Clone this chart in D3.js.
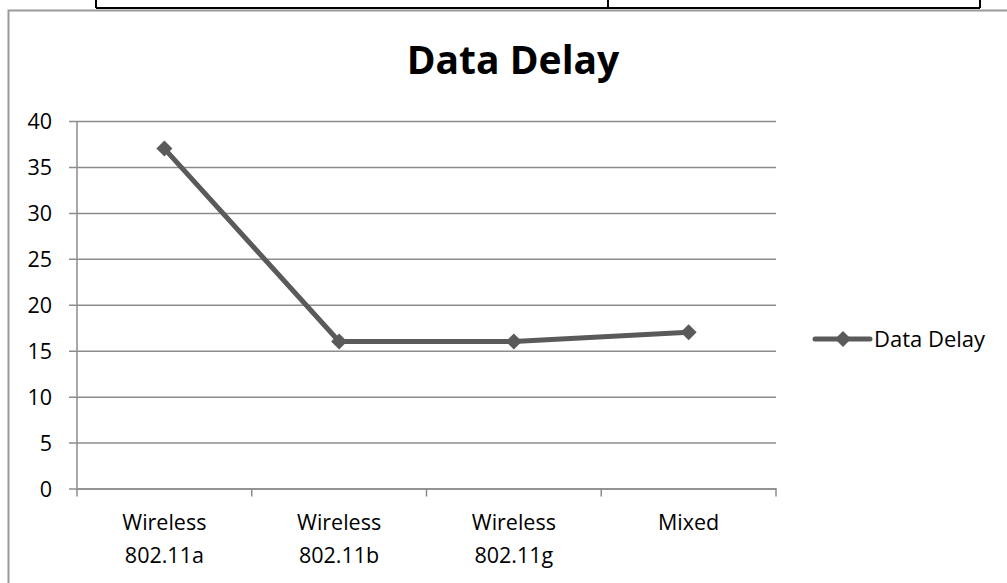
<!DOCTYPE html>
<html>
<head>
<meta charset="utf-8">
<script src="https://cdn.jsdelivr.net/npm/d3@7"></script>
<style>
  html, body { margin: 0; padding: 0; background: #fff; }
  svg { display: block; }
  text { font-family: "Open Sans", "Noto Sans", sans-serif; fill: #000; }
</style>
</head>
<body>
<script>
// Chart data
const categories = [["Wireless", "802.11a"], ["Wireless", "802.11b"], ["Wireless", "802.11g"], ["Mixed"]];
const seriesName = "Data Delay";
const delayValues = [37, 16, 16, 17];
const yTicks = [0, 5, 10, 15, 20, 25, 30, 35, 40];

const W = 1007, H = 583;
const labelSize = 21.5;
const svg = d3.select("body").append("svg").attr("width", W).attr("height", H);

// Table borders above the chart frame
const table = svg.append("g").attr("stroke", "#000").attr("stroke-width", 2).attr("fill", "none");
table.append("line").attr("x1", 96).attr("x2", 980).attr("y1", 8).attr("y2", 8);
[96, 608, 980].forEach(x => table.append("line").attr("x1", x).attr("x2", x).attr("y1", 0).attr("y2", 8));

// Chart frame (runs off the right and bottom edges)
svg.append("rect").attr("x", 8.5).attr("y", 10.5).attr("width", 1010).attr("height", 600)
  .attr("fill", "#fff").attr("stroke", "#9a9a9a").attr("stroke-width", 2);

// Title
svg.append("text").attr("x", 513).attr("y", 74).attr("text-anchor", "middle")
  .attr("font-size", 39).attr("font-weight", "bold").text(seriesName);

// Plot area
const plot = { left: 77, right: 776, top: 121, bottom: 488.5 };
const x = d3.scaleBand().domain(d3.range(categories.length)).range([plot.left, plot.right]).paddingInner(0).paddingOuter(0);
const y = d3.scaleLinear().domain([0, 40]).range([plot.bottom, plot.top]);

// Horizontal gridlines with left tick marks
const gridAxis = d3.axisLeft(y).tickValues(yTicks).tickSize(-(plot.right - plot.left)).tickFormat("");
const grid = svg.append("g").attr("transform", `translate(${plot.left},0)`).call(gridAxis);
grid.select(".domain").remove();
grid.selectAll(".tick line").attr("stroke", "#8c8c8c").attr("stroke-width", 1.5).attr("x1", -8);

// Y tick labels
svg.append("g").selectAll("text").data(yTicks).join("text")
  .attr("x", 52).attr("y", d => y(d) + 8).attr("text-anchor", "end")
  .attr("font-size", labelSize).text(d => d);

// Y axis line
svg.append("line").attr("x1", plot.left).attr("x2", plot.left).attr("y1", plot.top).attr("y2", plot.bottom)
  .attr("stroke", "#8c8c8c").attr("stroke-width", 1.5);

// X axis line and category boundary ticks
const xAxis = d3.axisBottom(x).tickFormat("").tickSize(0);
const xg = svg.append("g").attr("transform", `translate(0,${plot.bottom})`).call(xAxis);
xg.select(".domain").attr("stroke", "#8c8c8c").attr("stroke-width", 1.5);
const bounds = d3.range(categories.length + 1).map(i => plot.left + i * x.step());
svg.append("g").selectAll("line").data(bounds).join("line")
  .attr("x1", d => d).attr("x2", d => d).attr("y1", plot.bottom).attr("y2", plot.bottom + 8)
  .attr("stroke", "#8c8c8c").attr("stroke-width", 1.5);

// X category labels
const cx = i => x(i) + x.bandwidth() / 2;
svg.append("g").selectAll("text").data(categories).join("text")
  .attr("x", (d, i) => cx(i)).attr("y", 530).attr("text-anchor", "middle").attr("font-size", labelSize)
  .selectAll("tspan").data(d => d).join("tspan")
  .attr("x", function () { return d3.select(this.parentNode).attr("x"); })
  .attr("dy", (d, i) => i === 0 ? 0 : 33).text(d => d);

// Series line
const lineColor = "#5a5a5a";
svg.append("path").datum(delayValues)
  .attr("d", d3.line().x((d, i) => cx(i)).y(d => y(d)))
  .attr("fill", "none").attr("stroke", lineColor).attr("stroke-width", 5).attr("stroke-linejoin", "round");

// Diamond markers
const diamond = d3.symbol().type(d3.symbolSquare).size(128);
svg.append("g").selectAll("path").data(delayValues).join("path")
  .attr("d", diamond)
  .attr("transform", (d, i) => `translate(${cx(i)},${y(d)}) rotate(45)`)
  .attr("fill", lineColor);

// Legend
const lg = svg.append("g").attr("transform", "translate(815,339)");
lg.append("line").attr("x1", 0).attr("x2", 55).attr("y1", 0).attr("y2", 0)
  .attr("stroke", lineColor).attr("stroke-width", 5).attr("stroke-linecap", "round");
lg.append("path").attr("d", diamond).attr("transform", "translate(28,0) rotate(45)").attr("fill", lineColor);
lg.append("text").attr("x", 59).attr("y", 8).attr("font-size", 22).text(seriesName);
</script>
</body>
</html>
